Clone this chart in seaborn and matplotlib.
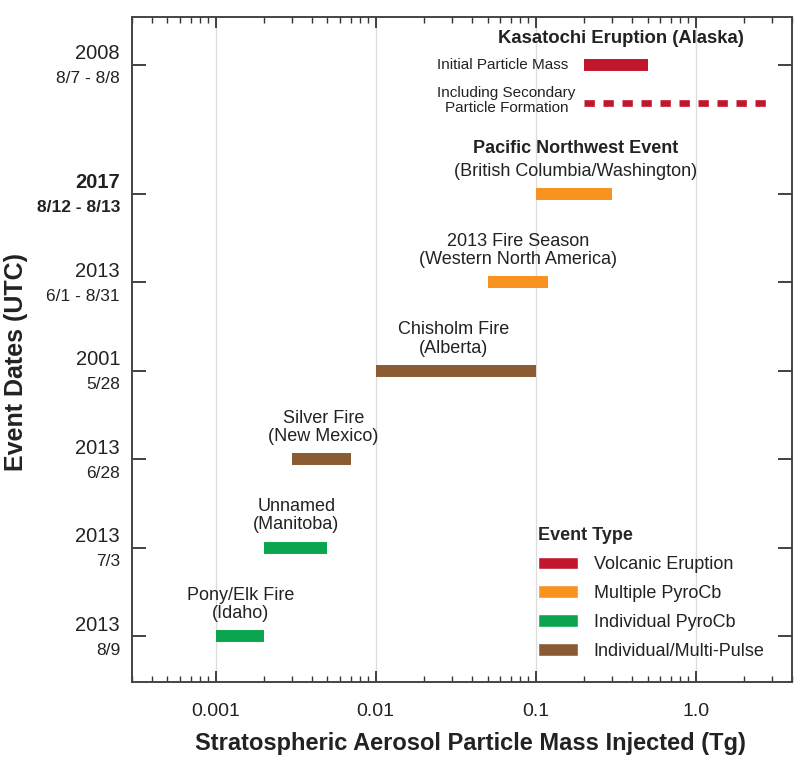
import numpy as np
import pandas as pd
import matplotlib
matplotlib.use("Agg")
import matplotlib.pyplot as plt
import matplotlib.transforms as mtransforms
from matplotlib.patches import Patch
import seaborn as sns

# data
events = ["Pony/Elk Fire\n(Idaho)", "Unnamed\n(Manitoba)", "Silver Fire\n(New Mexico)",
          "Chisholm Fire\n(Alberta)", "2013 Fire Season\n(Western North America)",
          "Pacific Northwest Event", "Kasatochi Eruption (Alaska)"]
years = ["2013", "2013", "2013", "2001", "2013", "2017", "2008"]
dates = ["8/9", "7/3", "6/28", "5/28", "6/1 - 8/31", "8/12 - 8/13", "8/7 - 8/8"]
ypos = [0, 1, 2, 3, 4, 5, 6.46]
mass_lo = [0.001, 0.002, 0.003, 0.01, 0.05, 0.1, 0.2]
mass_hi = [0.002, 0.005, 0.007, 0.1, 0.12, 0.3, 0.5]
etype = ["Individual PyroCb", "Individual PyroCb", "Individual/Multi-Pulse",
         "Individual/Multi-Pulse", "Multiple PyroCb", "Multiple PyroCb", "Volcanic Eruption"]
secondary_lo, secondary_hi, secondary_y = 0.2, 3.0, 6.03

type_order = ["Volcanic Eruption", "Multiple PyroCb", "Individual PyroCb", "Individual/Multi-Pulse"]
type_colors = ["#C1172C", "#F7931E", "#0BA550", "#8A5A33"]
palette = dict(zip(type_order, type_colors))

df = pd.DataFrame({"y": ypos, "lo": mass_lo, "hi": mass_hi, "type": etype})

sns.set_style("white")
plt.rcParams['font.family'] = ['Liberation Sans', 'DejaVu Sans']
txt = "#222222"

fig = plt.figure(figsize=(8, 7.63), dpi=100)
ax = fig.add_axes([0.165, 0.106, 0.825, 0.872])
ax.set_xscale("log")
ax.set_xlim(0.0003, 4)
ax.set_ylim(-0.52, 7.0)

for x in [0.001, 0.01, 0.1, 1.0]:
    ax.axvline(x, color="#dddddd", lw=1, zorder=0)

for _, r in df.iterrows():
    ax.hlines(r["y"], r["lo"], r["hi"], color=palette[r["type"]], lw=8.6, zorder=3)
ax.hlines(secondary_y, secondary_lo, secondary_hi, color=palette["Volcanic Eruption"],
          lw=4.8, linestyles=(0, (1.55, 1.3)), zorder=3)

# labels above bars
lab_x = [0.00143, 0.0032, 0.0047, 0.0306, 0.078]
for lx, name, y in zip(lab_x, events[:5], ypos[:5]):
    ax.text(lx, y + 0.16, name, ha="center", va="bottom", fontsize=13, linespacing=1.1, color=txt)
ax.text(0.177, 5 + 0.16, "(British Columbia/Washington)", ha="center", va="bottom", fontsize=13, color=txt)
ax.text(0.177, 5 + 0.42, "Pacific Northwest Event", ha="center", va="bottom", fontsize=13,
        fontweight="bold", color=txt)
ax.text(0.339, 6.75, "Kasatochi Eruption (Alaska)", ha="center", va="center", fontsize=13.3,
        fontweight="bold", color=txt)
ax.text(0.16, 6.46, "Initial Particle Mass", ha="right", va="center", fontsize=11, color=txt)
ax.text(0.0655, 6.05, "Including Secondary\nParticle Formation", ha="center", va="center",
        fontsize=11, linespacing=1.1, color=txt)

# y tick labels: year + dates
ax.set_yticks(ypos)
ax.set_yticklabels([])
trans = mtransforms.blended_transform_factory(ax.transAxes, ax.transData)
for y, yr, d in zip(ypos, years, dates):
    bold = "bold" if yr == "2017" else "normal"
    ax.annotate(yr, (-0.018, y), xycoords=trans, xytext=(0, 8), textcoords="offset points",
                ha="right", va="center", fontsize=14.5, fontweight=bold, color=txt)
    ax.annotate(d, (-0.018, y), xycoords=trans, xytext=(0, -10), textcoords="offset points",
                ha="right", va="center", fontsize=12.5, fontweight=bold, color=txt)

ax.set_xticks([0.001, 0.01, 0.1, 1.0])
ax.set_xticklabels(["0.001", "0.01", "0.1", "1.0"])
ax.tick_params(axis="x", which="major", direction="in", length=8, width=1.3, top=True, bottom=True,
               labelsize=14, pad=15, colors="#333333", labelcolor=txt)
ax.tick_params(axis="x", which="minor", direction="in", length=4.5, width=1, top=True, bottom=True,
               colors="#333333")
ax.tick_params(axis="y", which="major", direction="in", length=10, width=1.3, left=True, right=True,
               colors="#333333")
ax.tick_params(axis="y", which="minor", left=False, right=False)
for s in ax.spines.values():
    s.set_color("#444444")
    s.set_linewidth(1.4)

fig.text(470 / 800, 13 / 763, "Stratospheric Aerosol Particle Mass Injected (Tg)", ha="center",
         va="baseline", fontsize=17, fontweight="bold", color=txt)
fig.text(16 / 800, 1 - 362 / 763, "Event Dates (UTC)", ha="center", va="center", rotation=90,
         fontsize=18, fontweight="bold", color=txt)

handles = [Patch(facecolor=c, label=t) for t, c in zip(type_order, type_colors)]
leg = ax.legend(handles=handles, title="Event Type", loc="upper left", frameon=False,
                bbox_to_anchor=(0.615, 0.233), fontsize=13, borderpad=0, borderaxespad=0,
                title_fontproperties={"weight": "bold", "size": 13},
                handlelength=2.2, handleheight=0.67, labelspacing=0.66, handletextpad=0.9,
                alignment="left")
for t in leg.get_texts():
    t.set_color(txt)

fig.savefig("out.png", dpi=100)
